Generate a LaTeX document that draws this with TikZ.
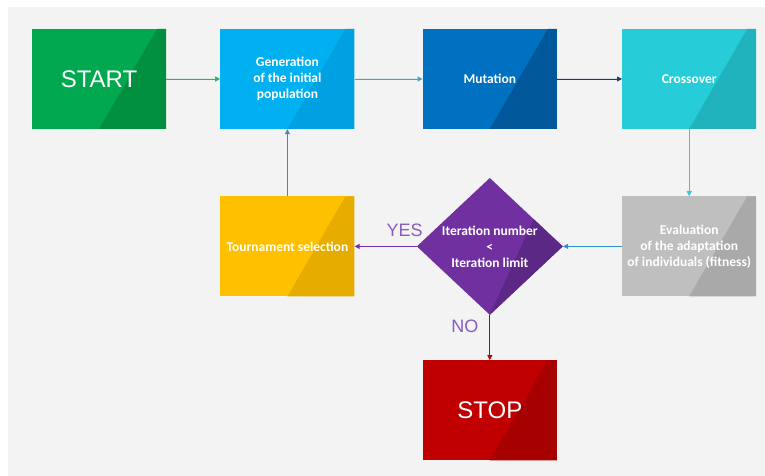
\documentclass[tikz,border=0pt]{standalone}
\usepackage{fontspec}
\newfontfamily\boxfont{Carlito}
\newfontfamily\headfont{Liberation Sans}
\usetikzlibrary{arrows.meta,positioning,shapes.geometric}
\usepackage{xcolor}

\definecolor{bggray}{HTML}{F3F3F3}
\definecolor{startgreen}{HTML}{00A94F}
\definecolor{startdark}{HTML}{00903F}
\definecolor{genblue}{HTML}{00B0F0}
\definecolor{gendark}{HTML}{00A1E2}
\definecolor{mutblue}{HTML}{0070C0}
\definecolor{mutdark}{HTML}{00589A}
\definecolor{crossteal}{HTML}{26CCD8}
\definecolor{crossdark}{HTML}{21B3BD}
\definecolor{evalgray}{HTML}{BFBFBF}
\definecolor{evaldark}{HTML}{A9A9A9}
\definecolor{tourgold}{HTML}{FFC000}
\definecolor{tourdark}{HTML}{E6AC00}
\definecolor{decpurple}{HTML}{7030A0}
\definecolor{decdark}{HTML}{5C2886}
\definecolor{stopred}{HTML}{C00000}
\definecolor{stopdark}{HTML}{A60000}
\definecolor{lblpurple}{HTML}{8A5CBF}
\definecolor{arrgreen}{HTML}{2DB563}
\definecolor{arrsky}{HTML}{4BA3C8}
\definecolor{arrnavy}{HTML}{1F3A6E}
\definecolor{arrcyan}{HTML}{38C6DA}
\definecolor{arrblue}{HTML}{2E93C8}
\definecolor{arrpurple}{HTML}{7030A0}
\definecolor{arrteal}{HTML}{3A8EB4}
\definecolor{arrred}{HTML}{C00000}

\begin{document}
\begin{tikzpicture}[
    x=1pt, y=1pt,
    box/.style 2 args={rectangle, fill=#1, minimum width=134pt, minimum height=100pt,
        inner sep=1pt, text=white, align=center,
        font=\boxfont\bfseries\fontsize{13.5}{16}\selectfont,
        path picture={\fill[#2] (path picture bounding box.south)
            -- ([xshift=-9pt]path picture bounding box.north east)
            -- (path picture bounding box.north east)
            -- (path picture bounding box.south east) -- cycle;}},
    big/.style={font=\headfont\fontsize{24}{28}\selectfont},
    decision/.style={diamond, fill=decpurple, shape aspect=1.07, inner sep=0pt,
        minimum width=146pt, minimum height=137pt, text=white, align=center,
        font=\boxfont\bfseries\fontsize{13.5}{16}\selectfont,
        path picture={\fill[decdark] (path picture bounding box.south)
            -- ++(55,120) -- ++(100,0) -- ++(0,-140) -- cycle;}},
    arrow/.style={-{Triangle[length=5pt,width=5pt]}, line width=0.8pt, draw=#1, fill=#1},
    lbl/.style={text=lblpurple, font=\headfont\fontsize{18}{20}\selectfont},
    node distance=54pt
]
\useasboundingbox (-99,79) rectangle (666,-397);
\fill[bggray] (-91,72) rectangle (666,-397);

\node[box={startgreen}{startdark}, big] (start) at (0,0) {START};
\node[box={genblue}{gendark}, right=54pt of start] (gen) {Generation\\of the initial\\population};
\node[box={mutblue}{mutdark}, right=68pt of gen] (mut) {Mutation};
\node[box={crossteal}{crossdark}, right=65pt of mut] (cross) {Crossover};
\node[box={evalgray}{evaldark}, below=67pt of cross] (eval) {Evaluation\\of the adaptation\\of individuals (fitness)};
\node[box={tourgold}{tourdark}, below=67pt of gen] (tour) {Tournament selection};
\node[decision] (dec) at (mut |- eval) {Iteration number\\<\\Iteration limit};
\node[box={stopred}{stopdark}, big, below=45pt of dec] (stop) {STOP};

\foreach \i/\j/\c in {start/gen/arrgreen, gen/mut/arrsky, mut/cross/arrnavy, cross/eval/arrcyan,
        eval/dec/arrblue, dec/tour/arrpurple, tour/gen/arrteal, dec/stop/arrred}
    \draw[arrow=\c] (\i) -- (\j);

\node[lbl] (yes) at ([shift={(-12,16)}]dec.west) {YES};
\node[lbl] (no) at ([shift={(-25,-11)}]dec.south) {NO};
\end{tikzpicture}
\end{document}
